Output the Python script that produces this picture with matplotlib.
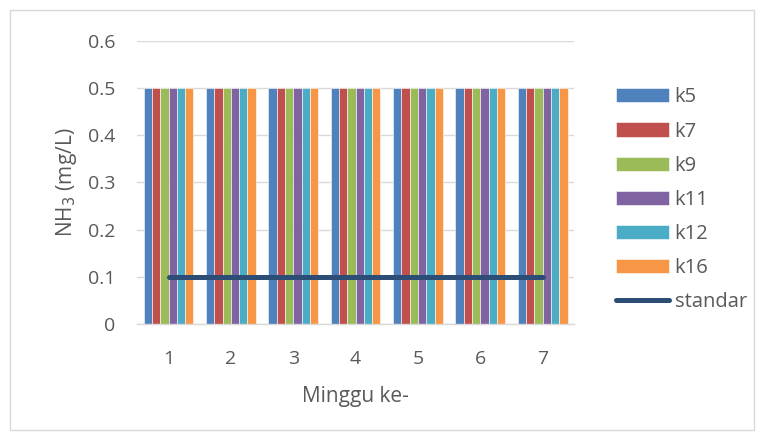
import numpy as np
import matplotlib.pyplot as plt
from matplotlib.patches import Rectangle

weeks = [1, 2, 3, 4, 5, 6, 7]
series_names = ['k5', 'k7', 'k9', 'k11', 'k12', 'k16']
k5 = [0.5, 0.5, 0.5, 0.5, 0.5, 0.5, 0.5]
k7 = [0.5, 0.5, 0.5, 0.5, 0.5, 0.5, 0.5]
k9 = [0.5, 0.5, 0.5, 0.5, 0.5, 0.5, 0.5]
k11 = [0.5, 0.5, 0.5, 0.5, 0.5, 0.5, 0.5]
k12 = [0.5, 0.5, 0.5, 0.5, 0.5, 0.5, 0.5]
k16 = [0.5, 0.5, 0.5, 0.5, 0.5, 0.5, 0.5]
standar = [0.1, 0.1, 0.1, 0.1, 0.1, 0.1, 0.1]

colors = ['#4f81bd', '#c0504d', '#9bbb59', '#8064a2', '#4bacc6', '#f79646']
line_color = '#2c4d75'
text_color = '#595959'

plt.rcParams['font.family'] = ['Open Sans', 'DejaVu Sans']

fig = plt.figure(figsize=(7.63, 4.37), dpi=100)
ax = fig.add_axes([0.180, 0.259, 0.572, 0.647])

# outer chart border
fig.patches.append(Rectangle((0.013, 0.016), 0.975, 0.961, transform=fig.transFigure,
                             fill=False, edgecolor='#d9d9d9', linewidth=1))

x = np.arange(len(weeks))
all_series = [k5, k7, k9, k11, k12, k16]
n = len(all_series)
group_w = 0.8
bw = group_w / n
handles = []
for i, (vals, name, c) in enumerate(zip(all_series, series_names, colors)):
    offs = -group_w / 2 + bw * (i + 0.5)
    b = ax.bar(x + offs, vals, bw, color=c, edgecolor='white', linewidth=0.4,
               label=name, zorder=2)
    handles.append(b)

ln, = ax.plot(x, standar, color=line_color, linewidth=3.6, solid_capstyle='round',
              label='standar', zorder=3)
handles.append(ln)

ax.set_xlim(-0.5, len(weeks) - 0.5)
ax.set_ylim(0, 0.6)
ax.set_yticks(np.arange(0, 0.61, 0.1))
ax.set_yticklabels(['0', '0.1', '0.2', '0.3', '0.4', '0.5', '0.6'])
ax.set_xticks(x)
ax.set_xticklabels([str(w) for w in weeks])
ax.grid(axis='y', color='#d9d9d9', linewidth=1, zorder=0)
ax.set_axisbelow(True)
for s in ['top', 'right', 'left']:
    ax.spines[s].set_visible(False)
ax.spines['bottom'].set_color('#d9d9d9')
ax.spines['bottom'].set_linewidth(1)
ax.tick_params(axis='both', length=0, labelsize=14, colors=text_color)
ax.tick_params(axis='y', pad=16)
ax.tick_params(axis='x', pad=19)

ax.set_xlabel('Minggu ke-', fontsize=15, color=text_color, labelpad=13)
ax.set_ylabel('NH$_3$ (mg/L)', fontsize=15, color=text_color, labelpad=6)

fig.legend(handles=handles, labels=series_names + ['standar'],
           loc='center left', bbox_to_anchor=(0.784, 0.543), frameon=False,
           fontsize=14.5, labelcolor=text_color, handlelength=2.6, handleheight=0.7,
           labelspacing=0.7, handletextpad=0.3)

fig.savefig('out.png', dpi=100)
